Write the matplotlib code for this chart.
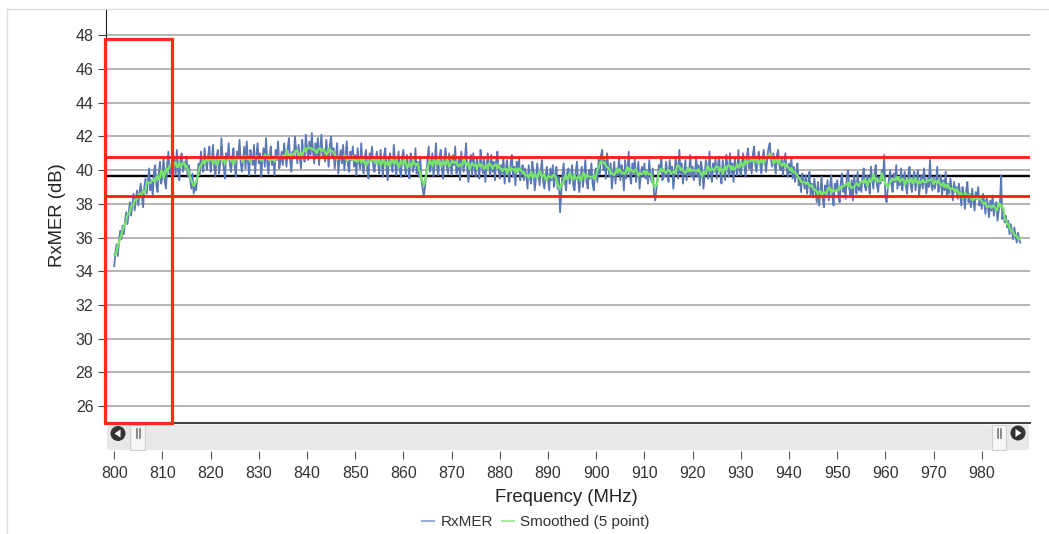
import numpy as np
import pandas as pd
import matplotlib
matplotlib.use("Agg")
import matplotlib.pyplot as plt
from matplotlib.patches import Rectangle, FancyBboxPatch, Circle, Polygon
from matplotlib.lines import Line2D

plt.rcParams['font.family'] = ['Liberation Sans', 'DejaVu Sans']

# RxMER samples, 0.25 MHz apart starting at 800 MHz (one row = 5 MHz)
freq_start = 800.0
freq_step = 0.25
rxmer = [
    34.3, 35.1, 35.6, 34.9, 35.8, 36.4, 35.9, 36.7, 36.2, 37.0, 37.5, 36.8, 37.4, 38.1, 37.3, 37.9, 38.6, 37.6, 38.3, 38.8,
    37.9, 38.7, 39.2, 38.4, 37.8, 39.0, 39.5, 38.6, 39.3, 40.1, 38.8, 39.4, 38.5, 39.9, 40.3, 39.1, 38.7, 39.8, 40.5, 39.2,
    39.6, 40.8, 39.3, 38.9, 40.4, 41.1, 39.8, 40.2, 39.5, 40.9, 40.6, 39.7, 41.2, 40.0, 39.4, 40.7, 41.0, 39.9, 40.5, 40.1,
    40.8, 39.6, 40.3, 39.5, 38.9, 39.8, 38.6, 39.2, 38.8, 39.6, 40.4, 39.7, 41.1, 40.2, 39.9, 41.3, 40.5, 40.0, 40.9, 41.4,
    39.9, 40.6, 41.5, 40.2, 39.6, 40.8, 41.2, 39.8, 40.4, 41.9, 40.7, 40.1, 39.5, 41.0, 40.6, 41.6, 40.3, 39.9, 40.8, 41.3,
    40.2, 39.6, 41.1, 40.7, 41.8, 40.4, 39.9, 40.6, 41.4, 40.1, 41.7, 40.5, 39.7, 41.2, 40.8, 40.3, 41.5, 39.8, 40.9, 41.6,
    40.4, 41.0, 39.6, 40.7, 41.3, 40.2, 41.9, 40.5, 39.8, 40.9, 41.4, 40.3, 40.8, 39.7, 41.2, 40.6, 41.7, 40.1, 40.5, 41.1,
    40.3, 41.6, 40.9, 40.2, 41.3, 41.9, 40.6, 39.9, 41.1, 40.7, 42.0, 41.2, 40.4, 41.5, 40.8, 40.1, 41.8, 41.0, 40.5, 42.1,
    41.3, 40.6, 41.7, 40.9, 42.2, 41.1, 40.4, 41.6, 40.8, 41.9, 40.3, 41.4, 42.1, 40.7, 41.2, 40.5, 41.8, 41.0, 40.2, 41.5,
    42.0, 40.8, 41.3, 40.1, 40.9, 41.6, 39.8, 40.7, 41.2, 40.4, 41.5, 40.0, 40.8, 41.7, 40.3, 39.9, 41.1, 40.6, 41.4, 40.2,
    40.9, 39.7, 41.3, 40.5, 40.1, 41.6, 40.3, 39.8, 40.8, 41.2, 40.0, 39.5, 41.0, 40.6, 41.4, 40.2, 39.9, 40.7, 41.1, 40.4,
    39.8, 41.2, 40.5, 39.6, 40.9, 41.3, 40.1, 39.4, 40.7, 41.0, 40.3, 39.9, 41.5, 40.6, 39.7, 40.4, 41.1, 40.0, 39.6, 40.8,
    41.2, 40.4, 39.7, 40.9, 40.1, 39.5, 41.0, 40.6, 39.9, 40.3, 41.3, 39.8, 40.5, 39.6, 40.8, 39.4, 38.9, 38.4, 39.1, 39.8,
    40.6, 41.4, 39.9, 40.2, 41.0, 39.6, 40.5, 41.6, 40.1, 39.7, 40.8, 41.2, 40.0, 39.5, 40.7, 41.3, 40.2, 39.8, 41.0, 40.4,
    39.7, 40.9, 40.3, 41.4, 39.8, 40.1, 40.7, 39.4, 41.1, 40.5, 39.9, 40.6, 41.6, 40.0, 39.3, 40.4, 40.9, 39.7, 41.0, 40.2,
    39.6, 40.8, 40.2, 39.5, 41.2, 40.4, 39.8, 40.7, 39.3, 40.1, 41.0, 40.3, 39.7, 40.9, 39.9, 40.5, 39.4, 40.6, 41.1, 40.0,
    39.5, 40.3, 39.8, 40.8, 39.2, 40.1, 40.6, 39.7, 39.3, 40.4, 40.9, 39.6, 40.2, 39.1, 40.5, 39.9, 40.7, 39.4, 40.0, 40.3,
    39.4, 40.1, 39.7, 38.9, 40.3, 39.6, 39.2, 40.5, 39.9, 38.8, 39.5, 40.4, 39.8, 39.1, 40.0, 40.6, 39.3, 38.9, 39.7, 40.2,
    39.5, 38.8, 40.1, 39.4, 40.3, 39.0, 39.7, 40.2, 38.9, 39.6, 37.5, 38.7, 39.8, 40.4, 39.3, 38.8, 39.9, 40.1, 39.2, 39.7,
    40.3, 39.1, 38.8, 39.9, 40.5, 39.4, 38.7, 39.6, 40.2, 39.0, 39.8, 40.6, 39.3, 38.9, 40.0, 39.5, 40.4, 39.2, 38.8, 39.9,
    40.1, 39.3, 40.7, 39.8, 40.9, 41.2, 40.0, 40.6, 39.5, 41.0, 40.2, 39.6, 40.4, 38.9, 39.8, 40.5, 39.2, 40.1, 39.7, 40.8,
    39.4, 40.3, 39.9, 38.8, 40.6, 39.5, 40.1, 41.1, 39.6, 39.2, 40.4, 39.8, 40.7, 39.3, 39.9, 40.5, 38.9, 39.7, 40.2, 39.6,
    40.4, 39.5, 40.0, 39.2, 40.6, 39.7, 39.3, 40.1, 38.6, 38.2, 38.9, 39.6, 40.3, 39.9, 40.8, 39.4, 40.0, 39.6, 40.5, 39.8,
    39.3, 40.6, 39.9, 40.2, 38.9, 39.7, 40.8, 40.1, 39.5, 41.2, 39.8, 40.4, 39.2, 39.9, 40.6, 39.4, 40.1, 39.7, 40.9, 39.6,
    40.2, 39.4, 39.9, 40.8, 39.6, 40.3, 39.1, 40.5, 40.0, 38.9, 39.7, 40.6, 40.1, 39.5, 41.1, 39.8, 39.3, 40.4, 39.9, 40.7,
    39.5, 40.3, 40.8, 39.7, 39.2, 40.6, 40.0, 39.4, 40.9, 40.2, 39.6, 41.0, 39.8, 40.4, 39.3, 40.7, 40.1, 39.7, 41.2, 40.0,
    39.7, 40.5, 41.0, 40.2, 39.6, 40.8, 41.3, 40.1, 40.6, 39.8, 40.9, 41.4, 40.3, 39.9, 40.7, 41.1, 40.4, 39.8, 40.6, 41.2,
    40.5, 39.9, 40.8, 41.3, 41.6, 40.7, 40.2, 41.0, 40.4, 39.8, 40.9, 41.2, 40.3, 40.0, 40.7, 39.7, 40.5, 41.0, 40.1, 39.6,
    40.4, 39.8, 40.7, 39.5, 40.2, 39.3, 39.9, 40.4, 39.1, 39.6, 38.7, 39.8, 39.4, 38.9, 39.7, 38.6, 39.3, 39.9, 38.5, 39.2,
    38.4, 39.5, 38.9, 38.1, 39.3, 37.9, 38.7, 39.6, 38.3, 37.8, 39.1, 38.6, 39.4, 38.2, 38.9, 39.7, 38.5, 37.9, 39.2, 38.8,
    39.4, 38.6, 38.1, 39.3, 39.8, 38.7, 39.1, 38.3, 39.6, 40.0, 38.9, 38.5, 39.4, 38.2, 39.7, 39.1, 38.6, 39.9, 38.8, 39.3,
    38.7, 39.6, 40.1, 39.0, 38.8, 39.7, 39.3, 38.6, 40.2, 39.5, 38.9, 39.8, 40.3, 39.1, 38.7, 39.6, 39.2, 40.0, 39.4, 40.9,
    38.4, 38.1, 38.9, 39.5, 40.0, 39.2, 38.7, 39.8, 39.3, 40.3, 38.9, 39.6, 39.1, 40.1, 38.8, 39.4, 39.9, 39.0, 38.6, 39.7,
    40.2, 39.1, 38.7, 39.6, 39.9, 38.8, 39.4, 40.0, 38.5, 39.2, 39.7, 38.9, 40.1, 39.3, 38.6, 39.5, 39.0, 40.6, 39.2, 38.8,
    39.6, 38.9, 39.3, 40.2, 38.7, 39.1, 39.7, 38.5, 39.4, 38.8, 39.9, 38.4, 39.2, 38.6, 39.5, 38.9, 38.2, 39.3, 38.7, 39.0,
    38.3, 39.2, 38.6, 37.9, 39.0, 38.5, 37.7, 38.8, 39.3, 38.1, 38.6, 37.8, 38.9, 38.2, 37.6, 38.7, 38.3, 39.0, 37.9, 38.4,
    37.7, 38.6, 38.1, 37.4, 38.4, 37.9, 37.2, 38.2, 37.6, 38.5, 37.3, 37.9, 38.1, 37.0, 37.6, 37.9, 39.7, 37.1, 37.5, 36.9,
    37.3, 36.6, 37.0, 36.2, 36.8, 36.4, 35.9, 36.6, 36.1, 35.7, 36.3, 35.9, 35.7,
]
freqs = freq_start + freq_step * np.arange(len(rxmer))
smoothed = pd.Series(rxmer).rolling(5, center=True, min_periods=1).mean()

upper_limit = 40.77
mean_level = 39.64
lower_limit = 38.46

highlight_x = (798.0, 811.9)
highlight_y = (25.0, 47.76)

x_ticks = list(range(800, 990, 10))
y_ticks = list(range(26, 50, 2))

W, H = 1049, 534
fig = plt.figure(figsize=(W / 100, H / 100), dpi=100)
fig.patch.set_facecolor('white')

def fx(px):
    return px / W

def fy(py):
    return 1 - py / H

# main plot
ax = fig.add_axes([fx(106), fy(423), fx(1030) - fx(106), fy(10) - fy(423)])
ax.set_xlim(798.3, 990.0)
ax.set_ylim(25, 49.5)
ax.set_yticks(y_ticks)
ax.set_xticks([])
for y in y_ticks:
    ax.axhline(y, color='#a8a8a8', lw=1.2, zorder=1)
ax.axhline(mean_level, color='black', lw=1.7, zorder=2)
ax.plot(freqs, rxmer, color='#5a77b6', lw=1.3, zorder=3)
ax.plot(freqs, smoothed, color='#78e36a', lw=1.6, zorder=4)
ax.axhline(upper_limit, color='#ff1a0a', lw=2.0, zorder=5)
ax.axhline(lower_limit, color='#ff1a0a', lw=2.0, zorder=5)
ax.add_patch(Rectangle((highlight_x[0], highlight_y[0]), highlight_x[1] - highlight_x[0],
                       highlight_y[1] - highlight_y[0], fill=False, ec='#ff2a1a', lw=2.3,
                       zorder=6, clip_on=False))
for s in ['top', 'right']:
    ax.spines[s].set_visible(False)
ax.spines['left'].set_color('#222222')
ax.spines['bottom'].set_color('#444444')
ax.spines['bottom'].set_linewidth(1.5)
ax.tick_params(axis='y', direction='out', length=6, color='#444444',
               labelsize=11.5, labelcolor='#333333', pad=3)

# scrollbar strip, carries the x ticks
ax_sb = fig.add_axes([fx(106), fy(451), fx(1030) - fx(106), fy(425) - fy(451)])
ax_sb.set_xlim(798.3, 990.0)
ax_sb.set_ylim(0, 1)
ax_sb.set_yticks([])
ax_sb.set_xticks(x_ticks)
ax_sb.patch.set_visible(False)
for s in ax_sb.spines.values():
    s.set_visible(False)
ax_sb.tick_params(axis='x', direction='out', length=6, color='#555555',
                  labelsize=11.5, labelcolor='#333333', pad=5)

# overlay in pixel coordinates for the widget decoration
ov = fig.add_axes([0, 0, 1, 1], zorder=-1)
ov.set_xlim(0, W)
ov.set_ylim(H, 0)
ov.axis('off')
ov.plot([7, W], [9, 9], color='#dddddd', lw=1)
ov.plot([7, 7], [9, H], color='#dddddd', lw=1)
ov.add_patch(FancyBboxPatch((107, 425), 922, 25, boxstyle='round,pad=0,rounding_size=3',
                            fc='#e8e8e8', ec='none'))
ov.add_patch(Rectangle((130, 425), 15, 25, fc='#f6f6f6', ec='#d0d0d0', lw=0.8))
ov.add_patch(Rectangle((992, 425), 14, 25, fc='#f6f6f6', ec='#d0d0d0', lw=0.8))
for gx in (136.5, 139.5, 998, 1001):
    ov.plot([gx, gx], [429, 438], color='#777777', lw=1.2)
ov.add_patch(Circle((118, 433.5), 7.5, fc='#333333', ec='none'))
ov.add_patch(Polygon([[114.5, 433.5], [120.5, 429.5], [120.5, 437.5]], fc='white', ec='none'))
ov.add_patch(Circle((1018, 433), 7.5, fc='#333333', ec='none'))
ov.add_patch(Polygon([[1021.5, 433], [1015.5, 429], [1015.5, 437]], fc='white', ec='none'))

fig.text(fx(57), fy(215), 'RxMER (dB)', rotation=90, ha='center', va='center',
         fontsize=13.3, color='#222222')
fig.text(fx(566), fy(497), 'Frequency (MHz)', ha='center', va='center',
         fontsize=13.3, color='#222222')

handles = [Line2D([], [], color='#9aacd8', lw=1.5),
           Line2D([], [], color='#a4eba0', lw=1.5)]
fig.legend(handles, ['RxMER', 'Smoothed (5 point)'], loc='center',
           bbox_to_anchor=(fx(536), fy(522)), ncol=2, frameon=False, fontsize=11,
           handlelength=0.8, handletextpad=0.4, columnspacing=0.6,
           labelcolor='#333333')

fig.savefig('out.png', dpi=100, facecolor='white')
